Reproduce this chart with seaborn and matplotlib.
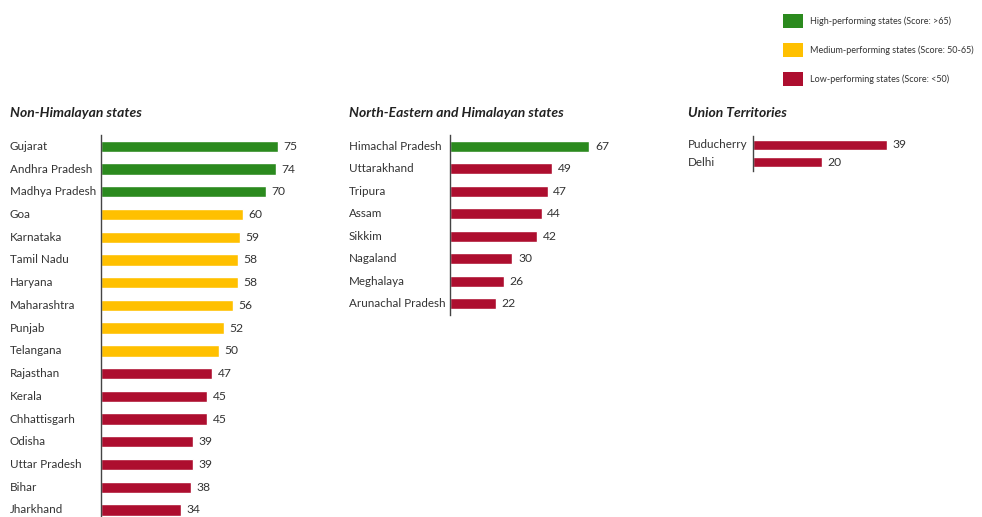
import matplotlib
matplotlib.use("Agg")
import matplotlib.pyplot as plt
import matplotlib.transforms as mtransforms
from matplotlib.patches import Patch
from matplotlib import font_manager
import seaborn as sns
import pandas as pd

# ---- data ----
nh_states = ["Gujarat", "Andhra Pradesh", "Madhya Pradesh", "Goa", "Karnataka", "Tamil Nadu",
             "Haryana", "Maharashtra", "Punjab", "Telangana", "Rajasthan", "Kerala",
             "Chhattisgarh", "Odisha", "Uttar Pradesh", "Bihar", "Jharkhand"]
nh_scores = [75, 74, 70, 60, 59, 58, 58, 56, 52, 50, 47, 45, 45, 39, 39, 38, 34]

ne_states = ["Himachal Pradesh", "Uttarakhand", "Tripura", "Assam", "Sikkim", "Nagaland",
             "Meghalaya", "Arunachal Pradesh"]
ne_scores = [67, 49, 47, 44, 42, 30, 26, 22]

ut_names = ["Puducherry", "Delhi"]
ut_scores = [39, 20]

panel_titles = ["Non-Himalayan states", "North-Eastern and Himalayan states", "Union Territories"]
legend_labels = ["High-performing states (Score: >65)",
                 "Medium-performing states (Score: 50-65)",
                 "Low-performing states (Score: <50)"]
colors = {"High": "#2b8a1e", "Medium": "#ffc000", "Low": "#ad0e2f"}


def category(s):
    if s > 65:
        return "High"
    if s >= 50:
        return "Medium"
    return "Low"


sns.set_theme(style="white")
plt.rcParams["font.family"] = ["Lato", "DejaVu Sans"]
available = {f.name for f in font_manager.fontManager.ttflist}
NARROW = ["Liberation Sans Narrow", "Lato", "DejaVu Sans"] if "Liberation Sans Narrow" in available \
    else ["Lato", "DejaVu Sans"]
LAB_FS = 9.5 if NARROW[0] == "Liberation Sans Narrow" else 8.4
TXT = "#333333"

W, H = 982, 517
fig = plt.figure(figsize=(W / 100, H / 100), dpi=100)


def px_axes(left, top, width, bottom):
    return fig.add_axes([left / W, 1 - bottom / H, width / W, (bottom - top) / H])


panels = [
    # names, scores, axis-left px, top px, bottom px, xmax, px per unit, label x px, ylim bottom, bar h, title y
    (nh_states, nh_scores, 101, 135, 517, 80, 2.36, 10, 16.31, 0.5, 113),
    (ne_states, ne_scores, 450, 135, 315, 75, 2.08, 349, 7.5, 0.5, 113),
    (ut_names, ut_scores, 753, 136, 171, 45, 3.44, 688, 1.5, 0.55, 113),
]

for (names, scores, left, top, bottom, xmax, ppu, lab_x, ylo, bh, ty), title in zip(panels, panel_titles):
    ax = px_axes(left, top, xmax * ppu, bottom)
    df = pd.DataFrame({"name": names, "score": scores,
                       "cat": [category(s) for s in scores]})
    sns.barplot(data=df, y="name", x="score", hue="cat", palette=colors, dodge=False,
                legend=False, orient="h", width=bh, ax=ax, saturation=1)
    ax.set_xlim(0, xmax)
    ax.set_ylim(ylo, -0.5)
    for c in ax.containers:
        ax.bar_label(c, fmt="%d", padding=4, fontsize=LAB_FS + 0.3, color=TXT, family=NARROW)
    ax.set_xticks([])
    ax.set_yticks([])
    ax.set_xlabel("")
    ax.set_ylabel("")
    for sp in ["top", "right", "bottom"]:
        ax.spines[sp].set_visible(False)
    ax.spines["left"].set_color("#444444")
    ax.spines["left"].set_linewidth(1.0)
    ax.patch.set_alpha(0)
    tr = mtransforms.blended_transform_factory(fig.transFigure, ax.transData)
    for i, n in enumerate(names):
        ax.text(lab_x / W, i, n, transform=tr, ha="left", va="center", fontsize=LAB_FS,
                color=TXT, clip_on=False, family=NARROW)
    fig.text(lab_x / W, 1 - ty / H, title, ha="left", va="center", fontsize=10,
             fontweight="bold", fontstyle="italic", color="#222222")

handles = [Patch(facecolor=colors[k], edgecolor="none") for k in ["High", "Medium", "Low"]]
fig.legend(handles, legend_labels, loc="upper left", bbox_to_anchor=(775 / W, 1 - 6 / H),
           frameon=False, fontsize=6.5, handlelength=2.2, handleheight=2.0,
           labelspacing=1.65, handletextpad=0.8, labelcolor=TXT)

fig.savefig("out.png", dpi=100, facecolor="white")
